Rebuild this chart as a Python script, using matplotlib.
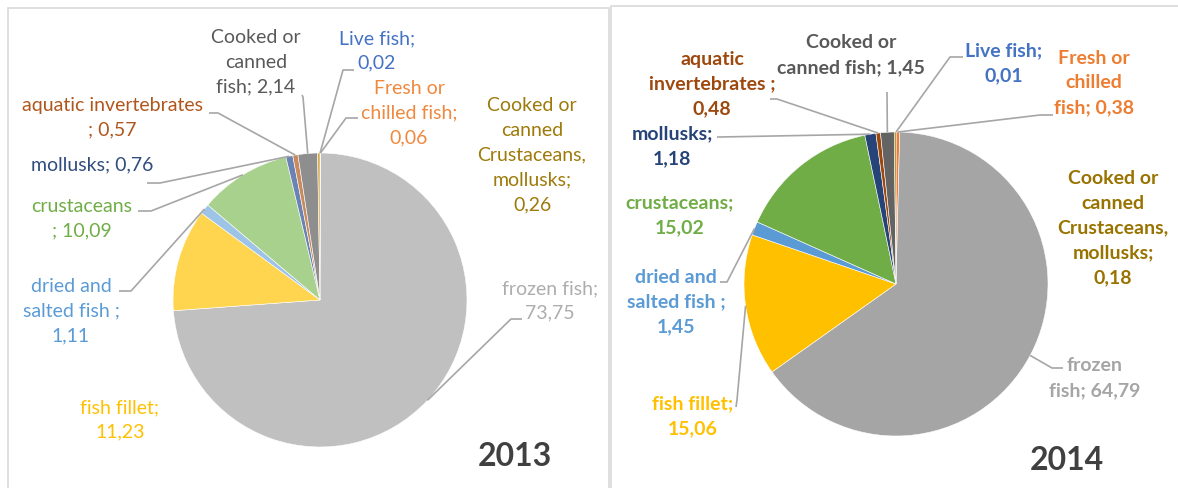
import matplotlib
matplotlib.use("Agg")
import matplotlib.pyplot as plt
from matplotlib.patches import Rectangle
import numpy as np

# ---------------- data ----------------
categories = ["Live fish", "Fresh or chilled fish", "frozen fish", "fish fillet",
              "dried and salted fish", "crustaceans", "mollusks",
              "aquatic invertebrates", "Cooked or canned fish",
              "Cooked or canned Crustaceans, mollusks"]
values_2013 = [0.02, 0.06, 73.75, 11.23, 1.11, 10.09, 0.76, 0.57, 2.14, 0.26]
values_2014 = [0.01, 0.38, 64.79, 15.06, 1.45, 15.02, 1.18, 0.48, 1.45, 0.18]
years = ["2013", "2014"]

labels_2013 = ["Live fish;\n{}", "Fresh or\nchilled fish;\n{}", "frozen fish;\n{}",
               "fish fillet;\n{}", "dried and\nsalted fish ;\n{}", "crustaceans\n; {}",
               "mollusks; {}", "aquatic invertebrates\n; {}", "Cooked or\ncanned\nfish; {}",
               "Cooked or\ncanned\nCrustaceans,\nmollusks;\n{}"]
labels_2014 = ["Live fish;\n{}", "Fresh or\nchilled\nfish; {}", "frozen\nfish; {}",
               "fish fillet;\n{}", "dried and\nsalted fish ;\n{}", "crustaceans;\n{}",
               "mollusks;\n{}", "aquatic\ninvertebrates ;\n{}", "Cooked or\ncanned fish; {}",
               "Cooked or\ncanned\nCrustaceans,\nmollusks;\n{}"]

# ---------------- styles ----------------
fill_2013 = ["#7f9ed6", "#f4a46e", "#c0c0c0", "#ffd44f", "#9dc3e6", "#a9d18e",
             "#6a82b4", "#c98b5e", "#8e8e8e", "#d4a84a"]
fill_2014 = ["#4472c4", "#ed7d31", "#a5a5a5", "#ffc000", "#5b9bd5", "#70ad47",
             "#264478", "#9e480e", "#636363", "#997300"]
text_2013 = ["#4472c4", "#f0883e", "#adadad", "#ffc000", "#5b9bd5", "#70ad47",
             "#2f4d7e", "#b0561c", "#595959", "#9e7a0a"]
text_2014 = ["#4472c4", "#ed7d31", "#a5a5a5", "#ffc000", "#5b9bd5", "#70ad47",
             "#264478", "#9e480e", "#595959", "#997300"]

W, H = 1178, 488
def py(y):
    return H - y

# label block centres (pixel coords, y down)
pos_2013 = [(377, 51), (409, 113), (550, 301), (120, 420), (71, 311),
            (82, 219), (92, 165), (112, 118), (256, 62), (532, 155)]
pos_2014 = [(1004, 63), (1094, 83), (1095, 378), (693, 416), (676, 302),
            (680, 215), (672, 146), (712, 84), (851, 55), (1113, 228)]
# leader: (anchor, elbow) or None
lead_2013 = [((354, 70), (343, 70)), ((358, 118), (346, 118)), ((522, 319), (511, 319)),
             None, ((119, 291), (131, 291)), ((138, 211), (151, 211)),
             ((147, 183), (160, 183)), ((209, 113), (218, 113)), ((302, 95), (303, 97)), None]
lead_2014 = [((963, 57), (950, 57)), ((1053, 115), (1040, 115)), ((1063, 368), (1052, 368)),
             ((736, 407), (737, 400)), ((720, 282), (727, 282)), None,
             ((717, 137), (720, 137)), ((770, 99), (777, 99)), ((887, 92), (887, 93)), None]

plt.rcParams['font.family'] = ['Lato', 'DejaVu Sans']

fig = plt.figure(figsize=(W / 100, H / 100), dpi=100)
ax = fig.add_axes([0, 0, 1, 1])

# panel borders
ax.add_patch(Rectangle((8, -20), 601, py(8) + 20, fill=False, edgecolor="#d9d9d9", lw=1.2))
ax.add_patch(Rectangle((611, -20), 620, py(6) + 20, fill=False, edgecolor="#d9d9d9", lw=1.2))

panels = [
    dict(vals=values_2013, fills=fill_2013, tcols=text_2013, labs=labels_2013,
         pos=pos_2013, lead=lead_2013, center=(320, 300), r=147, weight="normal",
         year=years[0], ypos=(515, 457)),
    dict(vals=values_2014, fills=fill_2014, tcols=text_2014, labs=labels_2014,
         pos=pos_2014, lead=lead_2014, center=(896, 284), r=152, weight="bold",
         year=years[1], ypos=(1067, 460)),
]

for p in panels:
    cx, cy = p["center"]
    wedges, _ = ax.pie(p["vals"], colors=p["fills"], startangle=90, counterclock=False,
                       center=(cx, py(cy)), radius=p["r"],
                       wedgeprops=dict(edgecolor="white", linewidth=0.4))
    for i, w in enumerate(wedges):
        v = p["vals"][i]
        txt = p["labs"][i].format(f"{v:.2f}".replace(".", ","))
        x, y = p["pos"][i]
        ax.text(x, py(y), txt, ha="center", va="center", fontsize=14,
                color=p["tcols"][i], fontweight=p["weight"], linespacing=1.55, zorder=5)
        if p["lead"][i] is not None:
            a, e = p["lead"][i]
            mid = np.deg2rad((w.theta1 + w.theta2) / 2)
            ex = w.center[0] + w.r * np.cos(mid)
            ey = w.center[1] + w.r * np.sin(mid)
            ax.plot([a[0], e[0], ex], [py(a[1]), py(e[1]), ey], color="#a6a6a6",
                    lw=1.2, zorder=4, solid_capstyle="butt")
    yx, yy = p["ypos"]
    ax.text(yx, py(yy), p["year"], ha="center", va="center", fontsize=23,
            fontweight="bold", color="#404040")

ax.set_xlim(0, W)
ax.set_ylim(0, H)
ax.set_aspect("auto")
ax.axis("off")
fig.savefig("out.png", dpi=100)
